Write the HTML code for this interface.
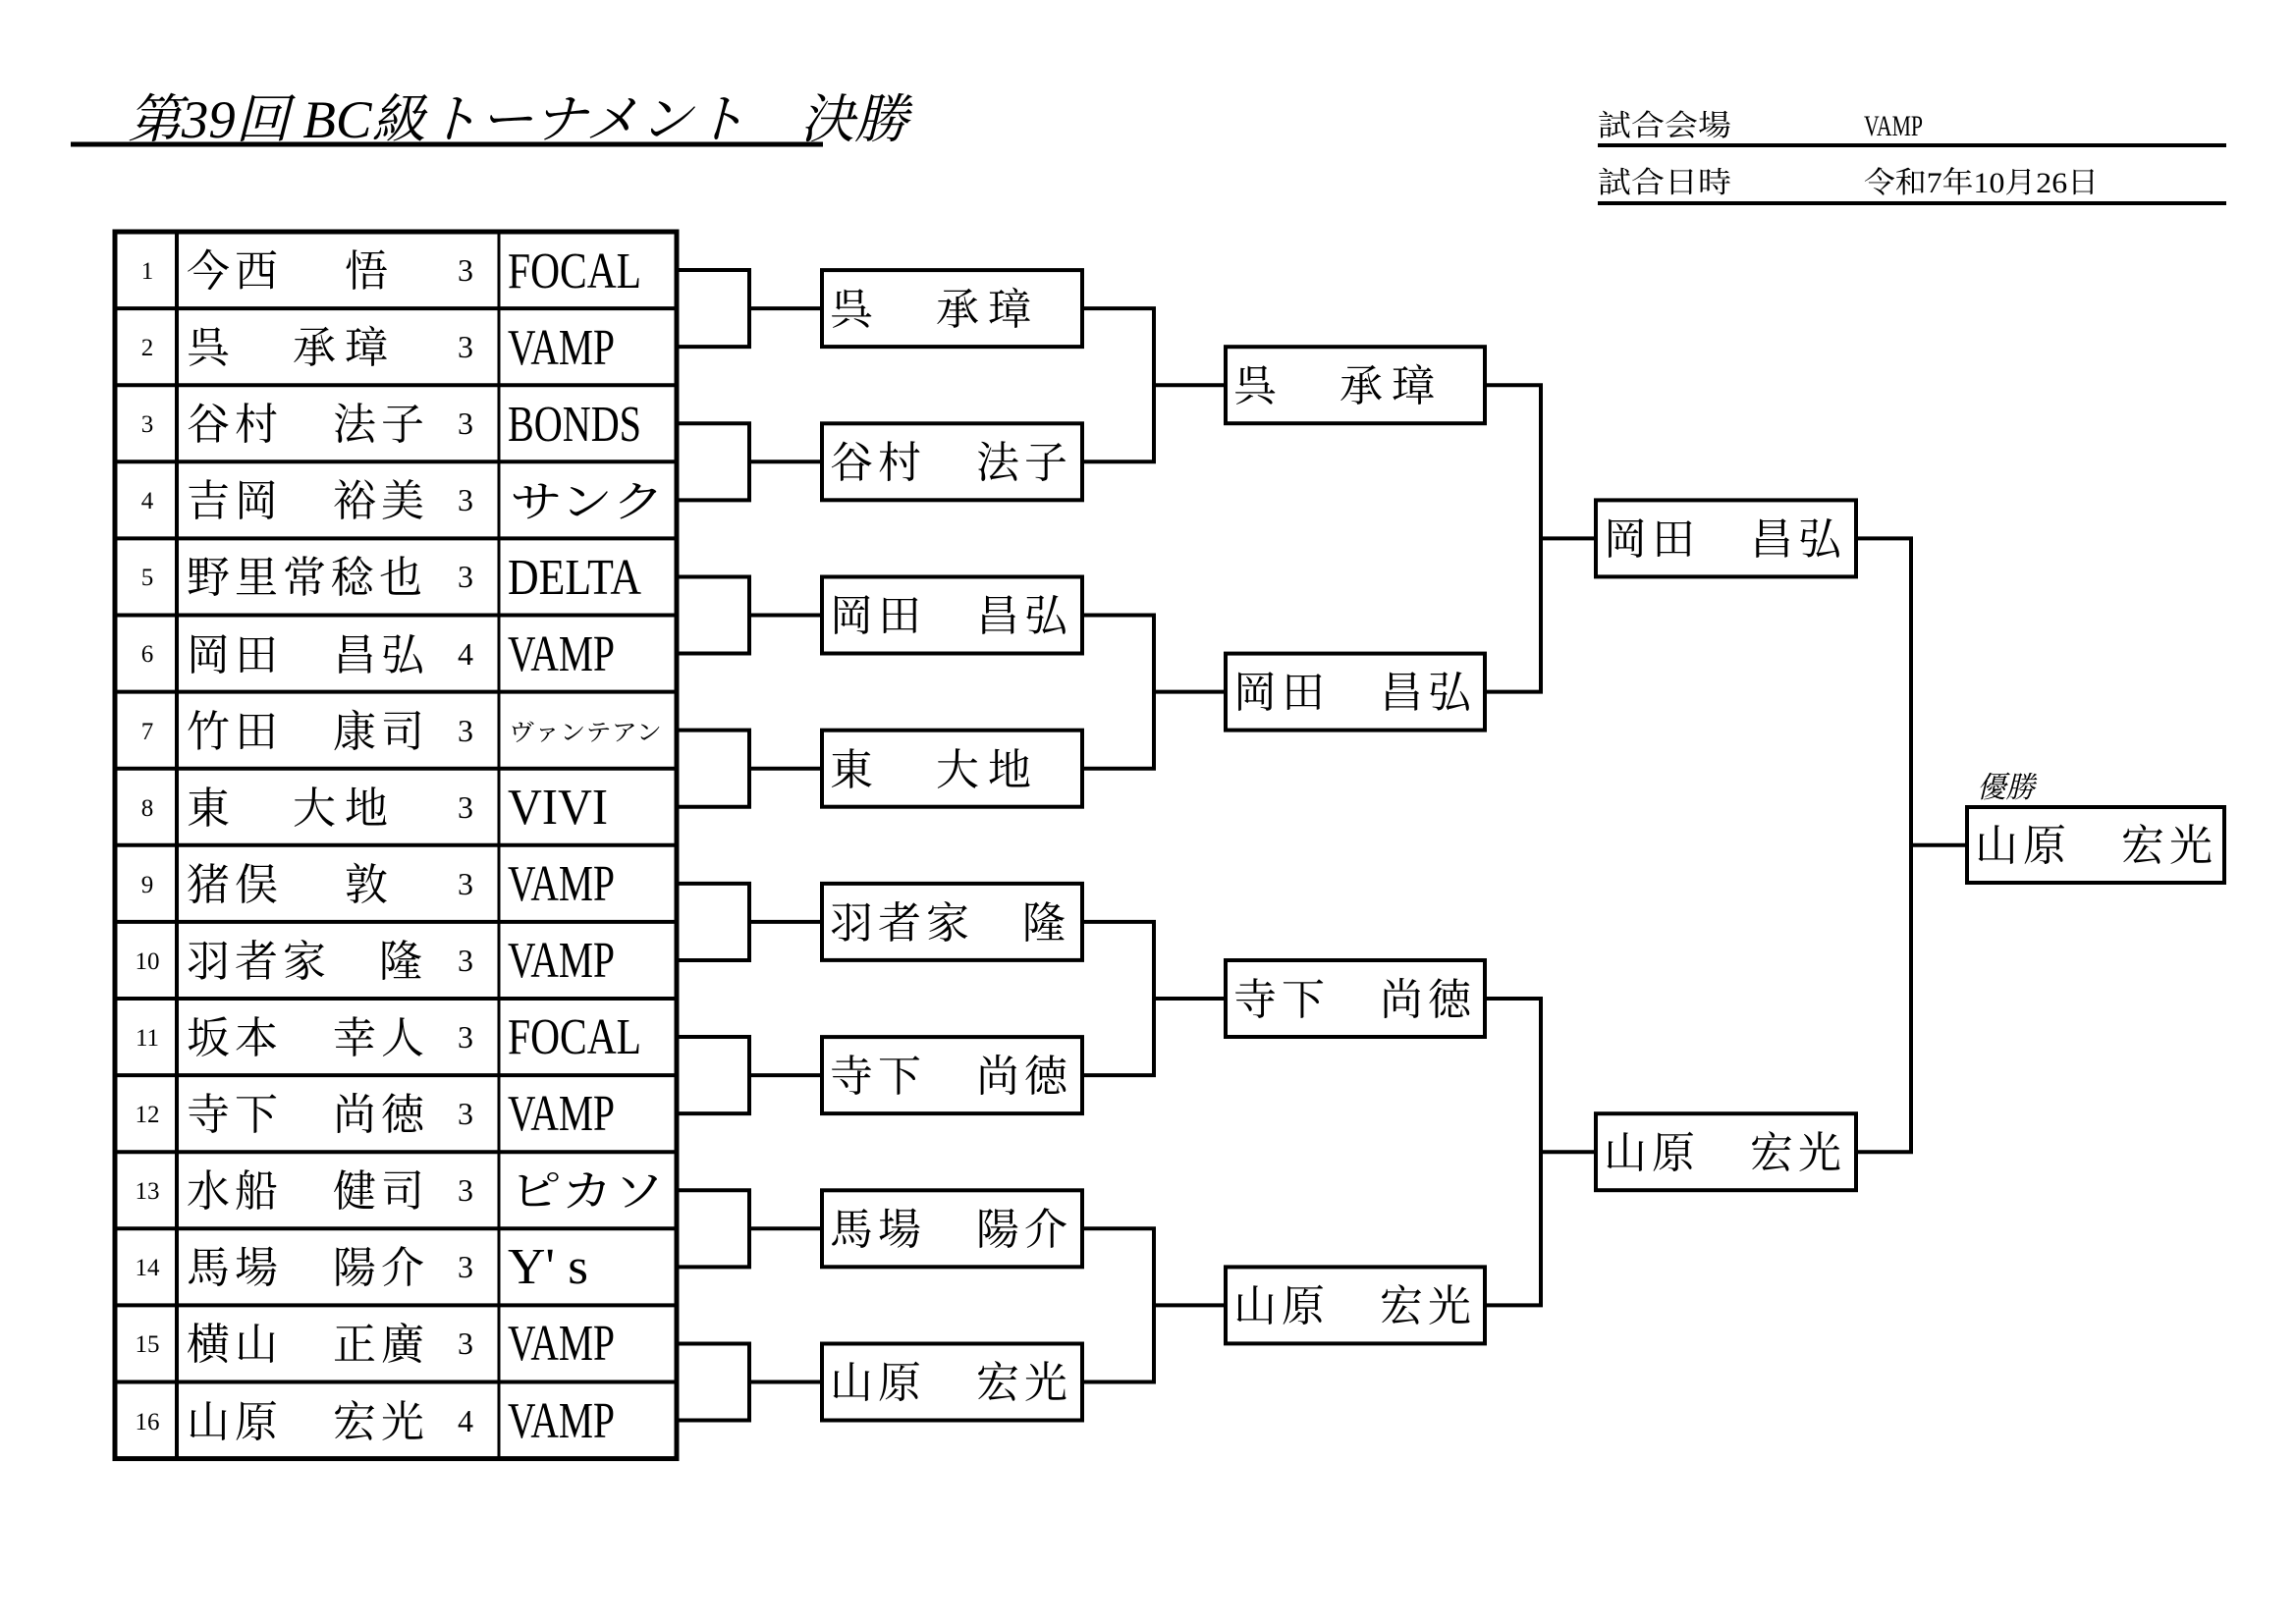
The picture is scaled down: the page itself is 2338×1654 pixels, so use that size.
<!DOCTYPE html>
<html><head><meta charset="utf-8"><style>
html,body{margin:0;padding:0;background:#fff;}
svg{display:block;}
text{font-family:"Liberation Serif","Noto Serif CJK SC",serif;fill:#000;}
.n{font-size:44px;}
.num{font-size:25px;text-anchor:middle;}
.sc{font-size:32px;}
.tm{font-size:52px;}
.tk{font-size:44px;}
</style></head><body>
<svg width="2338" height="1654" viewBox="0 0 2338 1654" xmlns="http://www.w3.org/2000/svg">
<text x="130" y="140" font-size="54" font-style="italic" textLength="795" lengthAdjust="spacingAndGlyphs">第39回 BC級トーナメント　決勝</text>
<line x1="72" y1="147" x2="838" y2="147" stroke="#000" stroke-width="5"/>
<text x="1627" y="138" font-size="30" textLength="136" lengthAdjust="spacingAndGlyphs">試合会場</text>
<text x="1898" y="138" font-size="30" textLength="60" lengthAdjust="spacingAndGlyphs">VAMP</text>
<line x1="1627" y1="148" x2="2267" y2="148" stroke="#000" stroke-width="4"/>
<text x="1627" y="196" font-size="30" textLength="136" lengthAdjust="spacingAndGlyphs">試合日時</text>
<text x="1898" y="196" font-size="30" textLength="239" lengthAdjust="spacingAndGlyphs">令和7年10月26日</text>
<line x1="1627" y1="207" x2="2267" y2="207" stroke="#000" stroke-width="4"/>

<g stroke="#000" fill="none">
<rect x="117" y="236" width="572" height="1249.6" stroke-width="5"/>
<line x1="180" y1="236" x2="180" y2="1485.6" stroke-width="4"/>
<line x1="508" y1="236" x2="508" y2="1485.6" stroke-width="3"/>
<g stroke-width="4">
<line x1="117" x2="689" y1="314.1" y2="314.1"/><line x1="117" x2="689" y1="392.2" y2="392.2"/>
<line x1="117" x2="689" y1="470.3" y2="470.3"/><line x1="117" x2="689" y1="548.4" y2="548.4"/>
<line x1="117" x2="689" y1="626.5" y2="626.5"/><line x1="117" x2="689" y1="704.6" y2="704.6"/>
<line x1="117" x2="689" y1="782.7" y2="782.7"/><line x1="117" x2="689" y1="860.8" y2="860.8"/>
<line x1="117" x2="689" y1="938.9" y2="938.9"/><line x1="117" x2="689" y1="1017" y2="1017"/>
<line x1="117" x2="689" y1="1095.1" y2="1095.1"/><line x1="117" x2="689" y1="1173.2" y2="1173.2"/>
<line x1="117" x2="689" y1="1251.3" y2="1251.3"/><line x1="117" x2="689" y1="1329.4" y2="1329.4"/>
<line x1="117" x2="689" y1="1407.5" y2="1407.5"/>
</g>
</g>

<g class="num">
<text x="150" y="284">1</text><text x="150" y="362">2</text><text x="150" y="440">3</text><text x="150" y="518">4</text>
<text x="150" y="596">5</text><text x="150" y="674">6</text><text x="150" y="753">7</text><text x="150" y="831">8</text>
<text x="150" y="909">9</text><text x="150" y="987">10</text><text x="150" y="1065">11</text><text x="150" y="1143">12</text>
<text x="150" y="1221">13</text><text x="150" y="1299">14</text><text x="150" y="1377">15</text><text x="150" y="1456">16</text>
</g>
<g class="n">
<text x="190 239 351" y="291">今西悟</text>
<text x="190 298 351" y="369">呉承璋</text>
<text x="190 239 339 388" y="447">谷村法子</text>
<text x="190 239 339 388" y="525">吉岡裕美</text>
<text x="190 239 288 337 386" y="603">野里常稔也</text>
<text x="190 239 339 388" y="682">岡田昌弘</text>
<text x="190 239 339 388" y="760">竹田康司</text>
<text x="190 298 351" y="838">東大地</text>
<text x="190 239 351" y="916">猪俣敦</text>
<text x="190 239 288 386" y="994">羽者家隆</text>
<text x="190 239 339 388" y="1072">坂本幸人</text>
<text x="190 239 339 388" y="1150">寺下尚徳</text>
<text x="190 239 339 388" y="1228">水船健司</text>
<text x="190 239 339 388" y="1306">馬場陽介</text>
<text x="190 239 339 388" y="1384">横山正廣</text>
<text x="190 239 339 388" y="1463">山原宏光</text>
</g>
<g class="sc">
<text x="466" y="286">3</text><text x="466" y="364">3</text><text x="466" y="442">3</text><text x="466" y="520">3</text>
<text x="466" y="598">3</text><text x="466" y="677">4</text><text x="466" y="755">3</text><text x="466" y="833">3</text>
<text x="466" y="911">3</text><text x="466" y="989">3</text><text x="466" y="1067">3</text><text x="466" y="1145">3</text>
<text x="466" y="1223">3</text><text x="466" y="1301">3</text><text x="466" y="1379">3</text><text x="466" y="1458">4</text>
</g>
<text class="tm" x="517" y="293" textLength="136" lengthAdjust="spacingAndGlyphs">FOCAL</text>
<text class="tm" x="517" y="371" textLength="109" lengthAdjust="spacingAndGlyphs">VAMP</text>
<text class="tm" x="517" y="449" textLength="136" lengthAdjust="spacingAndGlyphs">BONDS</text>
<text class="tk" x="519" y="526" textLength="158" lengthAdjust="spacingAndGlyphs">サンク</text>
<text class="tm" x="517" y="605" textLength="136" lengthAdjust="spacingAndGlyphs">DELTA</text>
<text class="tm" x="517" y="683" textLength="109" lengthAdjust="spacingAndGlyphs">VAMP</text>
<text x="518" y="754" font-size="24" textLength="156" lengthAdjust="spacingAndGlyphs">ヴァンテアン</text>
<text class="tm" x="517" y="839" textLength="102" lengthAdjust="spacingAndGlyphs">VIVI</text>
<text class="tm" x="517" y="917" textLength="109" lengthAdjust="spacingAndGlyphs">VAMP</text>
<text class="tm" x="517" y="995" textLength="109" lengthAdjust="spacingAndGlyphs">VAMP</text>
<text class="tm" x="517" y="1073" textLength="136" lengthAdjust="spacingAndGlyphs">FOCAL</text>
<text class="tm" x="517" y="1151" textLength="109" lengthAdjust="spacingAndGlyphs">VAMP</text>
<text class="tk" x="519" y="1228" textLength="158" lengthAdjust="spacingAndGlyphs">ピカソ</text>
<text class="tm" x="517" y="1307" font-size="46" textLength="82" lengthAdjust="spacingAndGlyphs">Y' s</text>
<text class="tm" x="517" y="1385" textLength="109" lengthAdjust="spacingAndGlyphs">VAMP</text>
<text class="tm" x="517" y="1464" textLength="109" lengthAdjust="spacingAndGlyphs">VAMP</text>

<g stroke="#000" stroke-width="4" fill="none">
<path d="M689 275.05H763V353.15H689M763 314.1H837"/>
<path d="M689 431.25H763V509.35H689M763 470.3H837"/>
<path d="M689 587.45H763V665.55H689M763 626.5H837"/>
<path d="M689 743.65H763V821.75H689M763 782.7H837"/>
<path d="M689 899.85H763V977.95H689M763 938.9H837"/>
<path d="M689 1056.05H763V1134.15H689M763 1095.1H837"/>
<path d="M689 1212.25H763V1290.35H689M763 1251.3H837"/>
<path d="M689 1368.45H763V1446.55H689M763 1407.5H837"/>
<path d="M1102 314.1H1175V470.3H1102M1175 392.2H1248"/>
<path d="M1102 626.5H1175V782.7H1102M1175 704.6H1248"/>
<path d="M1102 938.9H1175V1095.1H1102M1175 1017H1248"/>
<path d="M1102 1251.3H1175V1407.5H1102M1175 1329.4H1248"/>
<path d="M1512 392.2H1569V704.6H1512M1569 548.4H1625"/>
<path d="M1512 1017H1569V1329.4H1512M1569 1173.2H1625"/>
<path d="M1890 548.4H1946V1173.2H1890M1946 860.8H2003"/>
</g>
<g stroke="#000" stroke-width="4" fill="#fff">
<rect x="837" y="275.1" width="265" height="78"/>
<rect x="837" y="431.3" width="265" height="78"/>
<rect x="837" y="587.5" width="265" height="78"/>
<rect x="837" y="743.7" width="265" height="78"/>
<rect x="837" y="899.9" width="265" height="78"/>
<rect x="837" y="1056.1" width="265" height="78"/>
<rect x="837" y="1212.3" width="265" height="78"/>
<rect x="837" y="1368.5" width="265" height="78"/>
<rect x="1248" y="353.2" width="264" height="78"/>
<rect x="1248" y="665.6" width="264" height="78"/>
<rect x="1248" y="978" width="264" height="78"/>
<rect x="1248" y="1290.4" width="264" height="78"/>
<rect x="1625" y="509.4" width="265" height="78"/>
<rect x="1625" y="1134.2" width="265" height="78"/>
<rect x="2003" y="822" width="262" height="77"/>
</g>
<g class="n">
<text x="845 953 1006" y="330">呉承璋</text>
<text x="845 894 994 1043" y="486">谷村法子</text>
<text x="845 894 994 1043" y="642">岡田昌弘</text>
<text x="845 953 1006" y="799">東大地</text>
<text x="845 894 943 1041" y="955">羽者家隆</text>
<text x="845 894 994 1043" y="1111">寺下尚徳</text>
<text x="845 894 994 1043" y="1267">馬場陽介</text>
<text x="845 894 994 1043" y="1423">山原宏光</text>
<text x="1256 1364 1417" y="408">呉承璋</text>
<text x="1256 1305 1405 1454" y="720">岡田昌弘</text>
<text x="1256 1305 1405 1454" y="1033">寺下尚徳</text>
<text x="1256 1305 1405 1454" y="1345">山原宏光</text>
<text x="1633 1682 1782 1831" y="564">岡田昌弘</text>
<text x="1633 1682 1782 1831" y="1189">山原宏光</text>
<text x="2011 2060 2160 2209" y="876">山原宏光</text>
</g>
<text x="2013" y="812" font-size="30" font-style="italic" textLength="59" lengthAdjust="spacingAndGlyphs">優勝</text>
</svg>
</body></html>
